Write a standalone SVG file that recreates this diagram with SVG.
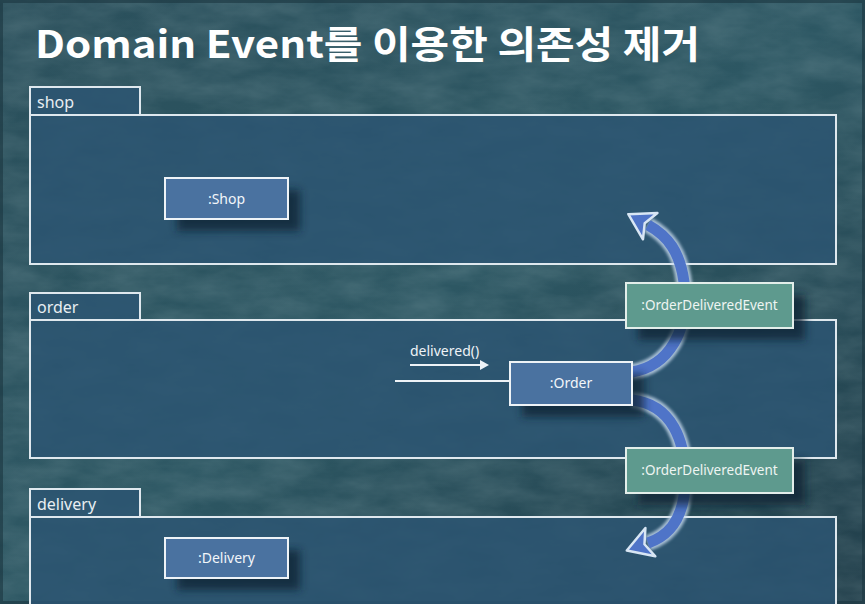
<svg xmlns="http://www.w3.org/2000/svg" width="865" height="604" viewBox="0 0 865 604">
  <defs>
    <linearGradient id="bg" x1="0" y1="0" x2="1" y2="1">
      <stop offset="0" stop-color="#2a4f5b"/>
      <stop offset="0.5" stop-color="#2d5763"/>
      <stop offset="1" stop-color="#223f4b"/>
    </linearGradient>
    <filter id="tex" x="0" y="0" width="100%" height="100%">
      <feTurbulence type="fractalNoise" baseFrequency="0.02 0.05" numOctaves="4" seed="3" result="n"/>
      <feColorMatrix type="matrix" values="0 0 0 0 0.55  0 0 0 0 0.7  0 0 0 0 0.72  0 0 0 0.5 -0.1" in="n"/>
    </filter>
    <filter id="shadow" x="-20%" y="-20%" width="150%" height="160%">
      <feGaussianBlur stdDeviation="4"/>
    </filter>
    <filter id="glow" x="-30%" y="-30%" width="160%" height="160%">
      <feGaussianBlur stdDeviation="1.5"/>
    </filter>
    <marker id="head" markerUnits="userSpaceOnUse" markerWidth="40" markerHeight="40" refX="2" refY="0" orient="auto" viewBox="-4 -16 30 32" overflow="visible">
      <path d="M0,-12 L20,0 L0,12 L5,0 Z" fill="#4f74c8" stroke="#d8e6f4" stroke-width="2" stroke-linejoin="round"/>
    </marker>
  </defs>
  <style>
    .pkg { fill: #2c5572; fill-opacity: 0.85; stroke: #dfe8ee; stroke-width: 2; }
    .obj { fill: #4a72a0; stroke: #eef3f7; stroke-width: 2; }
    .evt { fill: #5e9a8e; stroke: #e3eeea; stroke-width: 2; }
    .shd { fill: #0e2330; opacity: 0.75; filter: url(#shadow); }
    .plbl { font-family: "Noto Sans", "Liberation Sans", sans-serif; font-size: 16px; fill: #e8eef2; }
    .olbl { font-family: "Noto Sans", "Liberation Sans", sans-serif; font-size: 14px; fill: #f2f6fa; text-anchor: middle; }
    .elbl { font-family: "Noto Sans", "Liberation Sans", sans-serif; font-size: 13.5px; fill: #eef5f2; text-anchor: middle; }
    .glowline { fill: none; stroke: #c9dcf0; stroke-width: 16; opacity: 0.8; filter: url(#glow); }
    .flow { fill: none; stroke: #4f74c8; stroke-width: 11; }
  </style>

  <!-- background -->
  <rect x="0" y="0" width="865" height="604" fill="url(#bg)"/>
  <rect x="0" y="0" width="865" height="604" filter="url(#tex)" opacity="0.45"/>
  <rect x="0" y="0" width="865" height="604" fill="none" stroke="#1a3540" stroke-width="6" opacity="0.6"/>

  <!-- title -->
  <text x="35" y="58" font-family="'Noto Sans CJK KR', 'Noto Sans', sans-serif" font-weight="bold" font-size="38" fill="#ffffff" textLength="665" lengthAdjust="spacingAndGlyphs">Domain Event를 이용한 의존성 제거</text>

  <!-- packages -->
  <g id="pkg-shop">
    <rect class="pkg" x="30" y="87" width="110" height="28"/>
    <rect class="pkg" x="30" y="115" width="806" height="149"/>
    <text class="plbl" x="37" y="108">shop</text>
  </g>
  <g id="pkg-order">
    <rect class="pkg" x="30" y="293" width="110" height="27"/>
    <rect class="pkg" x="30" y="320" width="806" height="138"/>
    <text class="plbl" x="37" y="313">order</text>
  </g>
  <g id="pkg-delivery">
    <rect class="pkg" x="30" y="489" width="110" height="28"/>
    <rect class="pkg" x="30" y="517" width="806" height="90"/>
    <text class="plbl" x="37" y="510">delivery</text>
  </g>

  <!-- objects -->
  <g id="shop">
    <rect class="shd" x="177" y="190" width="123" height="41"/>
    <rect class="obj" x="165" y="178" width="123" height="41"/>
    <text class="olbl" x="226.5" y="204">:Shop</text>
  </g>
  <g id="delivery">
    <rect class="shd" x="177" y="550" width="123" height="40"/>
    <rect class="obj" x="165" y="538" width="123" height="40"/>
    <text class="olbl" x="226.5" y="563">:Delivery</text>
  </g>

  <!-- connectors -->
  <g id="connectors">
    <line x1="395" y1="381" x2="510" y2="381" stroke="#eef3f7" stroke-width="2"/>
    <line x1="410" y1="365" x2="482" y2="365" stroke="#eef3f7" stroke-width="2"/>
    <path d="M480,360 L489,365 L480,370 Z" fill="#eef3f7"/>
    <text x="410" y="356" font-family="'Noto Sans', 'Liberation Sans', sans-serif" font-size="14" fill="#eef3f7">delivered()</text>

    <path class="glowline" d="M632,372 C668,366 690,332 684,282 C680,252 668,236 648,225"/>
    <path class="flow" d="M632,372 C668,366 690,332 684,282 C680,252 668,236 648,225" marker-end="url(#head)"/>

    <path class="glowline" d="M632,400 C668,404 690,436 684,496 C680,522 668,536 648,543"/>
    <path class="flow" d="M632,400 C668,404 690,436 684,496 C680,522 668,536 648,543" marker-end="url(#head)"/>
  </g>

  <g id="order">
    <rect class="shd" x="522" y="374" width="122" height="43"/>
    <rect class="obj" x="510" y="362" width="122" height="43"/>
    <text class="olbl" x="571" y="388">:Order</text>
  </g>

  <g id="event1">
    <rect class="shd" x="638" y="295" width="167" height="45"/>
    <rect class="evt" x="626" y="283" width="167" height="45"/>
    <text class="elbl" x="709.5" y="310">:OrderDeliveredEvent</text>
  </g>
  <g id="event2">
    <rect class="shd" x="638" y="460" width="167" height="45"/>
    <rect class="evt" x="626" y="448" width="167" height="45"/>
    <text class="elbl" x="709.5" y="475">:OrderDeliveredEvent</text>
  </g>
</svg>
